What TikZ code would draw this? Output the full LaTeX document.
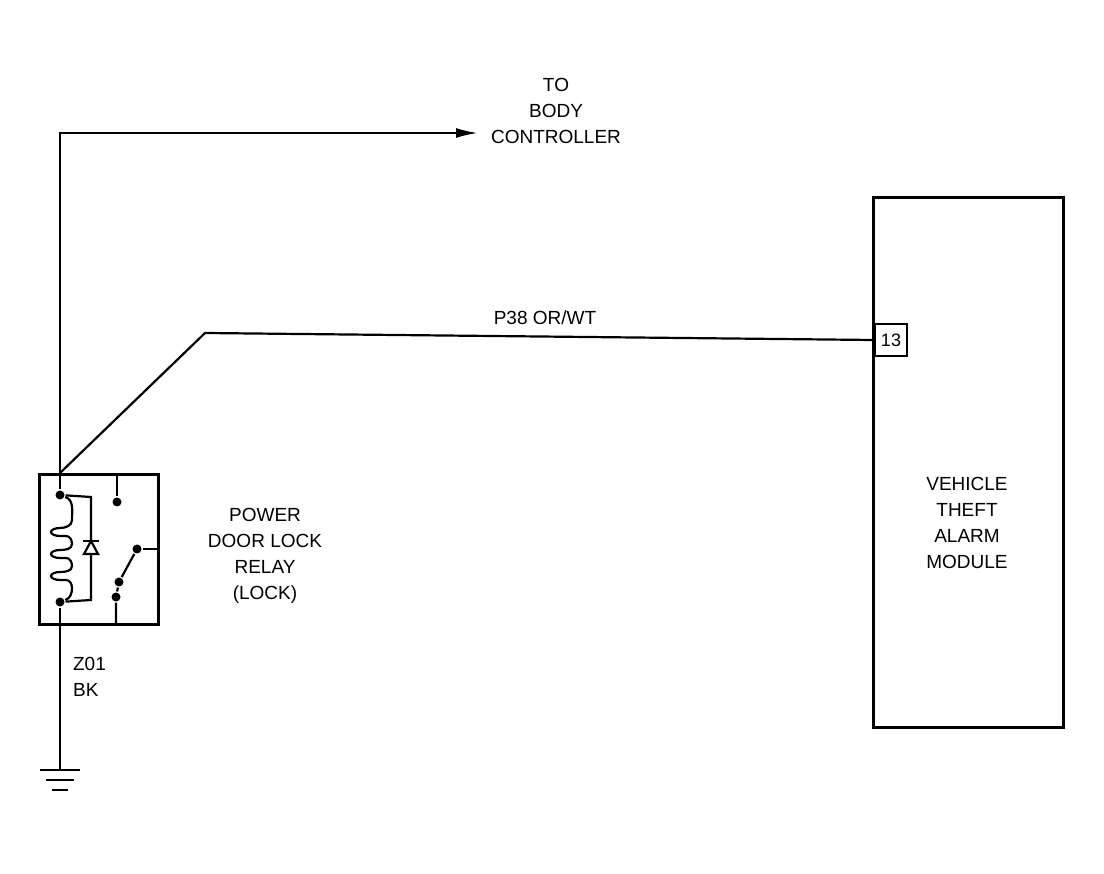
\documentclass[tikz,border=0pt]{standalone}
\usepackage{fontspec}
\setmainfont{Liberation Sans}
\usetikzlibrary{arrows.meta}
\begin{document}
\begin{tikzpicture}[x=1pt,y=-1pt,line width=2.2pt,
  lbl/.style={font=\fontsize{19}{26}\selectfont,align=center,inner sep=0pt},
  dot/.style={circle,fill,inner sep=0pt,minimum size=9pt}]
\useasboundingbox (0,0) rectangle (1104,874);
% relay
\node[draw,line width=3pt,minimum width=119pt,minimum height=150pt,anchor=north west,inner sep=0pt] (relay) at (38,473) {};
\coordinate (rtop) at (60,473);
\coordinate (rbot) at (60,623);
\node[dot] (c1) at (60,495) {};
\node[dot] (c2) at (60,602) {};
\draw (rtop) -- (c1);
\draw (c2) -- (rbot);
\draw (c1) to[out=-20,in=90] (72,520) to[out=-90,in=0] (60,528)
  arc[start angle=90,end angle=270,x radius=9,y radius=-4] -- (66,536)
  to[out=0,in=90] (72,544) to[out=-90,in=0] (60,550)
  arc[start angle=90,end angle=270,x radius=9,y radius=-4] -- (66,558)
  to[out=0,in=90] (72,566) to[out=-90,in=0] (60,572)
  arc[start angle=90,end angle=270,x radius=9,y radius=-4] -- (66,580)
  to[out=0,in=90] (72,588) to[out=-90,in=20] (c2);
\draw (c1) -- (91,497) -- (91,600) -- (c2);
\draw[fill=white] (91,541) -- (84,554) -- (98,554) -- cycle;
\draw (83,541) -- (99,541);
\node[dot] (s1) at (117,502) {};
\draw (117,473) -- (s1);
\node[dot] (s2) at (137,549) {};
\draw (s2) -- (157,549);
\node[dot] (s3) at (119,582) {};
\node[dot] (s4) at (116,597) {};
\draw (s2) -- (s3) -- (s4) -- (116,623);
% wires
\coordinate (tee) at (478,133);
\draw[-{Latex[length=22pt,width=10pt]}] (rtop) -- (60,133) -- (tee);
\node[lbl] (bc) at (556,111) {TO\\BODY\\CONTROLLER};
\node[draw,line width=2pt,minimum size=32pt,inner sep=0pt,font=\fontsize{18}{18}\selectfont] (p13) at (891,340) {13};
\node[draw,line width=3pt,minimum width=190pt,minimum height=530pt,anchor=north west,inner sep=0pt] (vtam) at (872,196) {};
\draw (rtop) -- (205,333) -- (p13.west);
\node[lbl] (w1) at (545,318) {P38 OR/WT};
\node[lbl] at (967,523) {VEHICLE\\THEFT\\ALARM\\MODULE};
\node[lbl] at (265,556) {POWER\\DOOR LOCK\\RELAY\\(LOCK)};
\node[lbl,align=left,anchor=west] at (72,677) {Z01\\BK};
\coordinate (g) at (60,770);
\draw (rbot) -- (g);
\draw (40,770) -- (80,770);
\draw (46,780) -- (74,780);
\draw (52,790) -- (68,790);
\end{tikzpicture}
\end{document}
